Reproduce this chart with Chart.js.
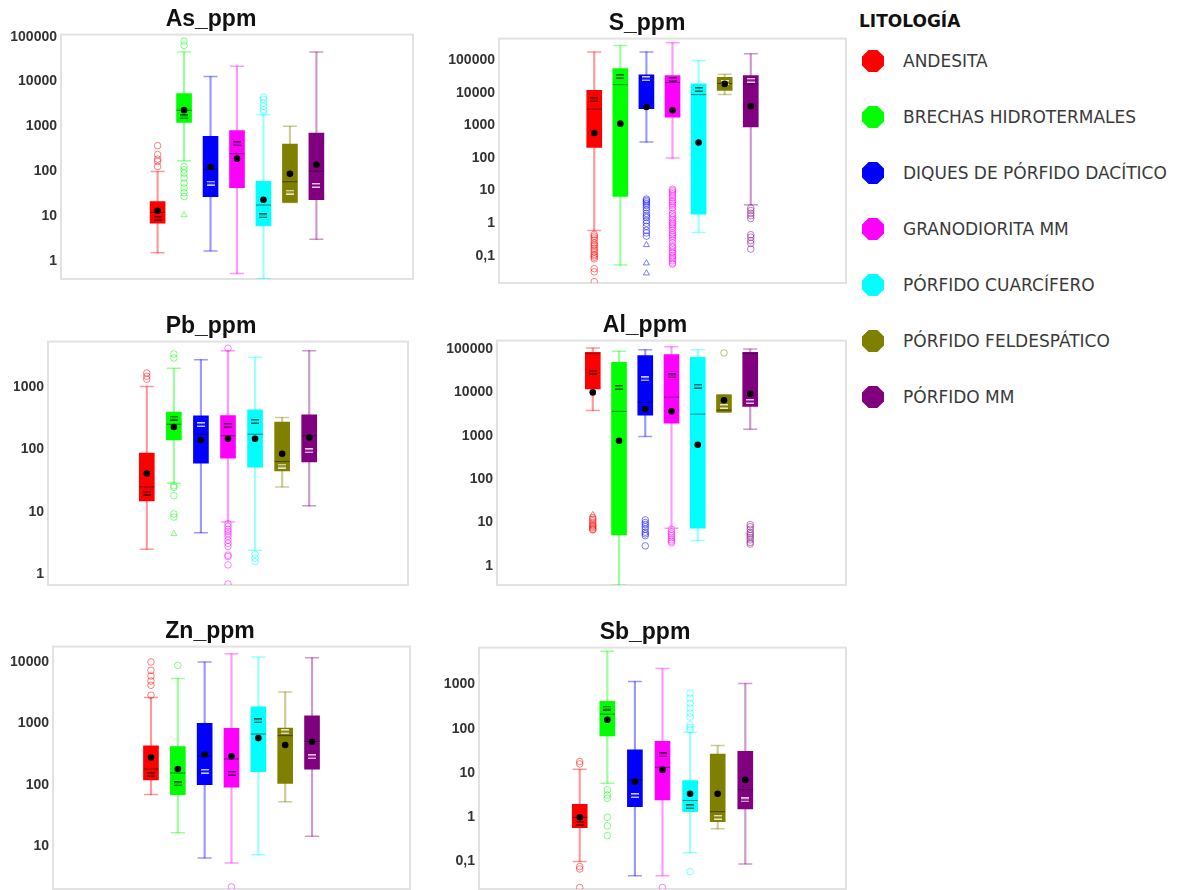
<!DOCTYPE html>
<html>
<head>
<meta charset="utf-8">
<script src="https://cdn.jsdelivr.net/npm/chart.js@4.4.1/dist/chart.umd.min.js"></script>
<style>
  body { margin: 0; background: #fff; width: 1179px; height: 890px; overflow: hidden; position: relative; }
  canvas { position: absolute; }
  .lt { position: absolute; left: 859px; top: 21px; transform: translateY(-50%); font: bold 17px "DejaVu Sans", sans-serif; color: #111; white-space: nowrap; }
  .mk { position: absolute; width: 22px; height: 22px;
        clip-path: polygon(30% 0, 70% 0, 100% 30%, 100% 70%, 70% 100%, 30% 100%, 0 70%, 0 30%); }
  .tx { position: absolute; left: 903px; transform: translateY(-50%); font: 17px "DejaVu Sans", sans-serif; color: #3a3a3a; white-space: nowrap; }
</style>
</head>
<body>
<canvas id="as"></canvas>
<canvas id="s"></canvas>
<canvas id="pb"></canvas>
<canvas id="al"></canvas>
<canvas id="zn"></canvas>
<canvas id="sb"></canvas>

<script>
// lithology groups, same order in every panel
const lithologies = ['ANDESITA', 'BRECHAS HIDROTERMALES', 'DIQUES DE PÓRFIDO DACÍTICO', 'GRANODIORITA MM',
  'PÓRFIDO CUARCÍFERO', 'PÓRFIDO FELDESPÁTICO', 'PÓRFIDO MM'];
const lithoColors = ['#ff0000', '#00ff00', '#0000ff', '#ff00ff', '#00ffff', '#808000', '#800080'];
const markTone = ['dark', 'dark', 'light', 'dark', 'dark', 'light', 'light'];

// As_ppm
const asTicks = [1, 10, 100, 1000, 10000, 100000];
const asLow = [1.5, 170, 1.65, 0.52, 0.4, 20, 3.0];
const asQ1 = [6.9, 1230, 27, 43, 6, 20, 23];
const asMed = [12, 2300, 110, 245, 17.5, 58, 100];
const asQ3 = [21, 5400, 600, 800, 59, 400, 710];
const asHigh = [98, 45500, 13000, 22000, 1830, 1000, 45500];
const asMean = [13, 2300, 123, 190, 23, 87, 138];
const asMark = [8.9, 1620, 54, 410, 10, 34, 48];
const asOut = [[370, 234, 185, 165, 127], [80000, 64000, 127, 107, 90, 70, 54, 42, 33, 27], [], [],
  [4500, 4000, 3300, 2800, 2350, 2050], [], []];
const asFar = [[], [10.5], [], [], [], [], []];

// S_ppm
const sTicks = [0.1, 1, 10, 100, 1000, 10000, 100000];
const sLow = [0.59, 0.052, 310, 100, 0.52, 8900, 3.7];
const sQ1 = [213, 6.6, 3300, 1820, 1.9, 12000, 900];
const sMed = [3200, 18000, 30000, 21000, 8900, 19500, 19000];
const sQ3 = [12000, 56000, 36000, 34000, 19000, 30000, 34000];
const sHigh = [182000, 287000, 182000, 346000, 100000, 37500, 160000];
const sMean = [590, 1140, 3700, 2950, 302, 19000, 3900];
const sMark = [6200, 32000, 27500, 26000, 12700, 21000, 24500];
const sOut = [
  [0.45, 0.4, 0.35, 0.3, 0.25, 0.22, 0.2, 0.17, 0.15, 0.13, 0.11, 0.1, 0.09, 0.08, 0.04, 0.032, 0.016],
  [],
  [5.5, 5, 4.5, 4, 3.5, 3, 2.5, 2, 1.7, 1.5, 1.2, 1, 0.8, 0.6, 0.5, 0.4],
  [11, 10, 9, 8, 7, 6, 5, 4.5, 4, 3.5, 3, 2.5, 2, 1.8, 1.5, 1.3, 1.1, 1, 0.9, 0.8, 0.7, 0.6, 0.5, 0.45,
    0.4, 0.35, 0.3, 0.25, 0.2, 0.18, 0.15, 0.13, 0.12, 0.1, 0.09, 0.08, 0.07, 0.06, 0.055],
  [], [],
  [2.9, 2.45, 2.0, 1.7, 1.4, 0.44, 0.37, 0.29, 0.24, 0.16]];
const sFar = [[], [], [0.215, 0.059, 0.029], [], [], [], []];

// Pb_ppm
const pbTicks = [1, 10, 100, 1000];
const pbLow = [2.5, 28.6, 4.6, 6.8, 2.4, 25, 12.4];
const pbQ1 = [14.9, 142, 60, 72, 52, 45, 63];
const pbMed = [25, 253, 175, 165, 175, 64, 165];
const pbQ3 = [87, 395, 345, 350, 430, 275, 360];
const pbHigh = [1020, 2000, 2750, 3840, 3000, 325, 3840];
const pbMean = [41, 228, 141, 148, 148, 85, 155];
const pbMark = [19.8, 318, 250, 240, 280, 54, 95];
const pbOut = [[1680, 1490, 1340], [3400, 2930, 26, 24.5, 18, 9.2, 8.2], [],
  [4200, 6.4, 5.8, 5.2, 4.8, 4.4, 4.0, 3.5, 3.1, 2.75, 2.0, 1.9, 1.4, 0.69], [2.07, 1.79, 1.58], [], []];
const pbFar = [[], [4.4], [], [], [], [], []];

// Al_ppm
const alTicks = [1, 10, 100, 1000, 10000, 100000];
const alLow = [3800, 0.36, 960, 7.4, 3.85, 3500, 1420];
const alQ1 = [12000, 5.2, 3000, 1950, 7.4, 3500, 4750];
const alMed = [78000, 3650, 5900, 7800, 3160, 3900, 78000];
const alQ3 = [84000, 49000, 70000, 74000, 64000, 8800, 84000];
const alHigh = [105000, 89000, 96000, 112000, 96000, 8800, 100000];
const alMean = [10000, 765, 4150, 3650, 620, 6600, 9300];
const alMark = [29000, 13000, 20500, 24000, 13800, 4750, 6200];
const alOut = [[13, 12, 11, 10, 9, 8.5, 8, 7.5, 7, 6.8], [], [11.5, 10, 9, 8, 7, 6, 5.5, 5, 2.9],
  [7, 6, 5.5, 5, 4.5, 4, 3.7, 3.4], [], [81000], [9, 8, 7, 6, 5.5, 5, 4.5, 4, 3.5, 3.2]];
const alFar = [[15], [], [], [], [], [], []];

// Zn_ppm
const znTicks = [10, 100, 1000, 10000];
const znLow = [69, 16.5, 6.4, 5.3, 7.2, 53, 14.5];
const znQ1 = [120, 69, 100, 91, 163, 105, 180];
const znMed = [180, 155, 295, 262, 670, 630, 507];
const znQ3 = [430, 420, 1000, 830, 1860, 835, 1320];
const znHigh = [2630, 5400, 10000, 13600, 12000, 3240, 11700];
const znMean = [278, 180, 310, 290, 575, 445, 500];
const znMark = [146, 103, 165, 153, 1100, 730, 286];
const znOut = [[10000, 7300, 5900, 4900, 4170, 2870], [8800], [], [2.16], [], [], []];
const znFar = [[], [], [], [], [], [], []];

// Sb_ppm
const sbTicks = [0.1, 1, 10, 100, 1000];
const sbLow = [0.1, 5.9, 0.048, 0.048, 0.158, 0.55, 0.088];
const sbQ1 = [0.58, 69, 1.74, 2.47, 1.34, 0.8, 1.55];
const sbMed = [1.0, 214, 7, 13.5, 2.4, 1.34, 4.2];
const sbQ3 = [1.97, 417, 33.5, 52, 6.8, 27, 31];
const sbHigh = [12.2, 5640, 1170, 2300, 84, 42, 1050];
const sbMean = [1.0, 160, 6.4, 11.8, 3.4, 3.4, 7];
const sbMark = [0.73, 295, 3.1, 25.8, 1.74, 1.0, 2.47];
const sbOut = [[18.2, 16.1, 0.077, 0.068, 0.026], [4.2, 3.2, 2.7, 1.0, 0.64, 0.385], [], [0.026],
  [640, 495, 380, 295, 226, 184, 123, 109, 95, 0.059], [], []];
const sbFar = [[], [], [], [], [], [], []];

function alpha(hex, a) {
  const n = parseInt(hex.slice(1), 16);
  return `rgba(${n >> 16},${(n >> 8) & 255},${n & 255},${a})`;
}

// small "=" glyph used for the second centre marker
function markGlyph(tone) {
  const c = document.createElement('canvas');
  c.width = 8; c.height = 5;
  const g = c.getContext('2d');
  g.fillStyle = tone === 'dark' ? 'rgba(0,0,0,0.65)' : 'rgba(255,255,255,0.8)';
  g.fillRect(0, 0, 8, 1.5);
  g.fillRect(0, 3.5, 8, 1.5);
  return c;
}
const markGlyphs = markTone.map(markGlyph);

// light grey frame round the plot area
const framePlugin = {
  id: 'frame',
  beforeDatasetsDraw(chart) {
    const { ctx, chartArea: a } = chart;
    ctx.save();
    ctx.strokeStyle = '#e2e2e2';
    ctx.lineWidth = 2;
    ctx.strokeRect(a.left, a.top, a.right - a.left, a.bottom - a.top);
    ctx.restore();
  }
};

const fmt = v => String(v).replace('.', ',');
const at = arr => arr.map((v, i) => ({ x: i + 1, y: v }));
const spread = (lists) => {
  const pts = [], cols = [];
  lists.forEach((vals, i) => vals.forEach(v => { pts.push({ x: i + 1, y: v }); cols.push(alpha(lithoColors[i], 0.5)); }));
  return { pts, cols };
};

function boxPanel(id, title, d, box) {
  const cv = document.getElementById(id);
  const top = box.plotTop - 34;
  cv.width = box.plotRight + 2 - box.left;
  cv.height = box.plotBottom + 2 - top;
  cv.style.left = box.left + 'px';
  cv.style.top = top + 'px';

  const soft = lithoColors.map(c => alpha(c, 0.4));
  const out = spread(d.out);
  const far = spread(d.far);

  new Chart(cv, {
    type: 'bar',
    data: {
      datasets: [
        { type: 'scatter', data: at(d.mean), order: 1, pointStyle: 'circle', pointRadius: 3.3,
          pointBackgroundColor: '#000', pointBorderWidth: 0 },
        { type: 'scatter', data: at(d.mark), order: 2, pointStyle: markGlyphs, pointRadius: 4 },
        { type: 'scatter', data: at(d.med), order: 3, pointStyle: 'line', pointRadius: 7.5,
          pointBorderColor: 'rgba(0,0,0,0.5)', pointBorderWidth: 1 },
        { type: 'bar', data: d.q1.map((v, i) => ({ x: i + 1, y: [v, d.q3[i]] })), order: 4,
          backgroundColor: lithoColors, barThickness: 15, grouped: false, borderWidth: 0 },
        { type: 'scatter', data: at(d.low).concat(at(d.high)), order: 5, pointStyle: 'line', pointRadius: 7,
          pointBorderColor: soft.concat(soft), pointBorderWidth: 1.5 },
        { type: 'bar', data: d.low.map((v, i) => ({ x: i + 1, y: [v, d.high[i]] })), order: 6,
          backgroundColor: soft, barThickness: 1.5, grouped: false, borderWidth: 0 },
        { type: 'scatter', data: out.pts, order: 7, pointStyle: 'circle', pointRadius: 3.3,
          pointBackgroundColor: 'rgba(0,0,0,0)', pointBorderColor: out.cols, pointBorderWidth: 1 },
        { type: 'scatter', data: far.pts, order: 7, pointStyle: 'triangle', pointRadius: 3.5,
          pointBackgroundColor: 'rgba(0,0,0,0)', pointBorderColor: far.cols, pointBorderWidth: 1 }
      ]
    },
    options: {
      responsive: false,
      animation: false,
      devicePixelRatio: 1,
      layout: { autoPadding: false, padding: { top: 0, right: 2, bottom: 2, left: 0 } },
      plugins: {
        legend: { display: false },
        tooltip: { enabled: false },
        title: { display: true, text: title, color: '#111',
          font: { family: 'Liberation Sans', size: 23, weight: 'bold' }, padding: { top: 5, bottom: 1 } }
      },
      scales: {
        x: { type: 'linear', min: 4 - 6.65, max: 4 + 6.65, offset: false, display: false },
        y: {
          type: 'logarithmic', min: d.yMin, max: d.yMax,
          grid: { display: false, drawTicks: false },
          border: { display: false },
          afterBuildTicks: s => { s.ticks = d.ticks.map(v => ({ value: v })); },
          afterFit: s => { s.width = box.plotLeft - box.left; s.paddingTop = 0; s.paddingBottom = 0; },
          ticks: { autoSkip: false, padding: 4, color: '#333',
            font: { family: 'Liberation Sans', size: 14, weight: 'bold' },
            callback: v => fmt(v) }
        }
      }
    },
    plugins: [framePlugin]
  });
}

boxPanel('as', 'As_ppm', { ticks: asTicks, low: asLow, q1: asQ1, med: asMed, q3: asQ3, high: asHigh,
  mean: asMean, mark: asMark, out: asOut, far: asFar, yMin: 0.39, yMax: 112000 },
  { left: 9, plotLeft: 61, plotTop: 35, plotRight: 413, plotBottom: 279 });
boxPanel('s', 'S_ppm', { ticks: sTicks, low: sLow, q1: sQ1, med: sMed, q3: sQ3, high: sHigh,
  mean: sMean, mark: sMark, out: sOut, far: sFar, yMin: 0.0145, yMax: 468000 },
  { left: 448, plotLeft: 499, plotTop: 39, plotRight: 846, plotBottom: 283 });
boxPanel('pb', 'Pb_ppm', { ticks: pbTicks, low: pbLow, q1: pbQ1, med: pbMed, q3: pbQ3, high: pbHigh,
  mean: pbMean, mark: pbMark, out: pbOut, far: pbFar, yMin: 0.665, yMax: 5370 },
  { left: 14, plotLeft: 48, plotTop: 342, plotRight: 408, plotBottom: 585 });
boxPanel('al', 'Al_ppm', { ticks: alTicks, low: alLow, q1: alQ1, med: alMed, q3: alQ3, high: alHigh,
  mean: alMean, mark: alMark, out: alOut, far: alFar, yMin: 0.364, yMax: 156000 },
  { left: 444, plotLeft: 497, plotTop: 341, plotRight: 846, plotBottom: 585 });
boxPanel('zn', 'Zn_ppm', { ticks: znTicks, low: znLow, q1: znQ1, med: znMed, q3: znQ3, high: znHigh,
  mean: znMean, mark: znMark, out: znOut, far: znFar, yMin: 2.0, yMax: 17800 },
  { left: 10, plotLeft: 53, plotTop: 647, plotRight: 410, plotBottom: 889 });
boxPanel('sb', 'Sb_ppm', { ticks: sbTicks, low: sbLow, q1: sbQ1, med: sbMed, q3: sbQ3, high: sbHigh,
  mean: sbMean, mark: sbMark, out: sbOut, far: sbFar, yMin: 0.024, yMax: 6840 },
  { left: 444, plotLeft: 479, plotTop: 648, plotRight: 846, plotBottom: 889 });

// legend on the right
const legendTitle = document.createElement('div');
legendTitle.className = 'lt';
legendTitle.textContent = 'LITOLOGÍA';
document.body.appendChild(legendTitle);
lithologies.forEach((name, i) => {
  const y = 61 + i * 56;
  const mk = document.createElement('div');
  mk.className = 'mk';
  mk.style.left = '862px';
  mk.style.top = (y - 11) + 'px';
  mk.style.background = lithoColors[i];
  document.body.appendChild(mk);
  const tx = document.createElement('div');
  tx.className = 'tx';
  tx.style.top = y + 'px';
  tx.textContent = name;
  document.body.appendChild(tx);
});
</script>
</body>
</html>
